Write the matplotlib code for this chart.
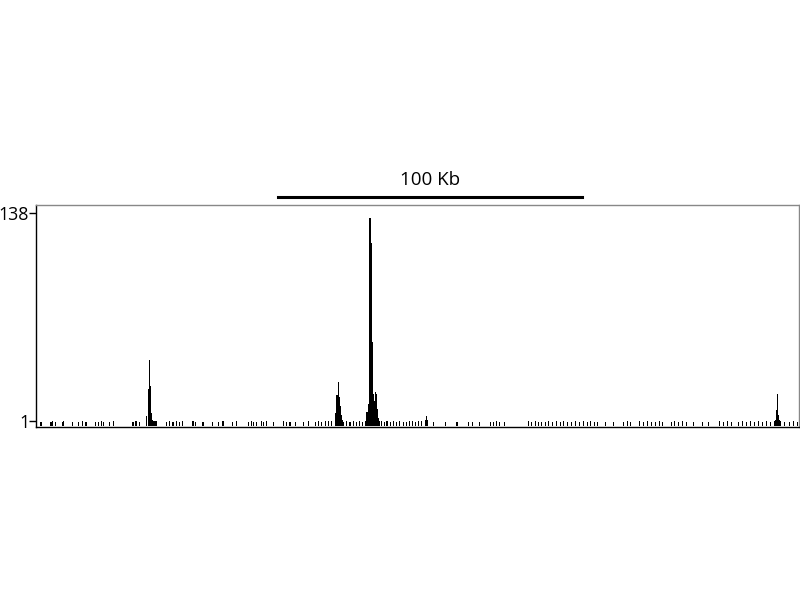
import matplotlib.pyplot as plt
import numpy as np

# signal track, positions in Kb
peak_kb = [36.6, 37.0, 37.3, 37.6, 38.0, 38.3, 38.6, 39.0, 39.3, 39.6, 39.9,
           98.7, 99.0, 99.3, 99.7, 100.0, 100.3, 100.7, 101.0,
           108.9, 109.2, 109.6, 109.9, 110.2, 110.6, 110.9, 111.2, 111.6, 111.9, 112.2, 112.5, 112.9, 113.2,
           128.4, 128.7, 129.0,
           243.9, 244.2, 244.6, 244.9, 245.2, 245.6]
peak_val = [4, 22, 41, 24, 6, 2, 1, 1, 1, 1, 0.5,
            6, 12, 18, 27, 17, 11, 5, 2,
            4, 7, 12, 40, 135, 118, 53, 19, 14, 20, 19, 9, 3, 1,
            2, 4, 1.5,
            2, 8, 19, 5, 1.5, 1]

noise_kb = [1.65, 4.95, 5.6, 6.3, 8.6, 9.2, 12.2, 13.9, 15.2, 16.5, 19.5, 20.5, 21.5, 22.4, 24.1, 25.7,
            32.0, 32.7, 33.3, 34.3,
            43.2, 44.2, 45.2, 46.2, 47.2, 48.2, 51.8, 52.5, 55.1, 58.1, 60.1, 61.7, 64.7, 66.3,
            70.0, 71.0, 71.9, 72.9, 74.3, 75.2, 76.2, 78.5, 81.5, 82.5,
            83.8, 85.5, 88.1, 89.8, 92.1, 93.1, 94.1, 95.4, 96.4, 97.4,
            101.6, 102.6, 103.6, 104.6, 105.6, 106.6, 107.6, 108.6,
            113.9, 114.9, 115.8, 116.8, 117.8, 118.8, 119.8, 121.1, 122.1, 123.1, 124.1, 125.1, 126.1, 127.1,
            131.0, 135.0, 138.9, 142.6, 143.9, 146.2, 149.8, 150.8, 151.8, 152.8, 154.5,
            162.4, 163.4, 164.7, 165.7, 166.7, 168.0, 169.0, 170.3, 171.6, 172.9, 173.9, 175.2,
            176.6, 177.9, 179.2, 180.5, 181.8, 182.8, 184.2, 185.1,
            187.8, 190.4, 193.7, 195.0, 196.0, 199.0, 200.3, 201.6, 203.0, 204.3, 205.6,
            206.6, 209.6, 210.6, 211.9, 213.2, 214.5, 216.8, 219.8, 221.8, 225.4, 226.7, 228.0, 229.4,
            231.7, 233.0, 234.3, 235.6, 237.0, 238.3, 239.6, 240.9, 242.2, 243.6, 246.9, 248.5, 249.8, 251.2]
noise_val = [0.5, 0.3, 1.0, 0.4, 0.2, 0.8, 0.5, 0.3, 0.9, 0.4, 0.6, 0.3, 0.8, 0.5, 0.2, 0.7,
             0.4, 1.2, 0.8, 0.3,
             0.6, 0.9, 0.4, 0.7, 0.3, 0.8, 1.0, 0.5, 0.3, 0.6, 0.2, 0.7, 0.4, 0.9,
             0.5, 0.8, 0.3, 0.6, 1.0, 0.4, 0.7, 0.3, 0.8, 0.5,
             0.3, 0.6, 0.4, 0.8, 0.5, 0.9, 0.3, 0.7, 1.2, 0.9,
             0.6, 1.0, 0.4, 0.8, 0.5, 0.9, 0.6, 1.1,
             0.8, 0.4, 1.0, 0.5, 0.7, 0.3, 0.9, 0.6, 0.4, 0.8, 1.0, 0.5, 1.2, 0.7,
             0.4, 0.6, 0.3, 0.5, 0.4, 0.2, 0.6, 0.4, 0.7, 0.3, 0.5,
             0.7, 0.4, 0.9, 0.5, 0.6, 0.3, 0.8, 0.5, 0.7, 0.4, 0.9, 0.6,
             0.3, 0.8, 0.5, 0.7, 0.4, 0.9, 0.5, 0.6,
             0.3, 0.4, 0.6, 0.8, 0.5, 0.7, 0.4, 0.9, 0.5, 0.6, 0.8,
             0.4, 0.6, 0.8, 0.5, 0.7, 0.3, 0.5, 0.4, 0.3, 0.7, 0.5, 0.8, 0.4,
             0.6, 0.9, 0.5, 0.7, 0.4, 0.8, 0.6, 0.9, 0.5, 1.0, 0.6, 0.4, 0.7, 0.5]

y_ticks = [1, 138]
scale_kb = [80, 180]
scale_label = "100 Kb"

plt.rcParams['font.family'] = ['Open Sans', 'DejaVu Sans']

fig = plt.figure(figsize=(8, 6), dpi=100)
ax = fig.add_axes([0.045, 0.2883, 0.954, 0.37])

base = -2.0
ax.bar(noise_kb, np.array(noise_val) - base, bottom=base, width=0.34,
       color='black', linewidth=0)
ax.bar(peak_kb, np.array(peak_val) - base, bottom=base, width=0.36,
       color='black', linewidth=0)

ax.set_xlim(0, 251.8)
ax.set_ylim(-2.95, 143.3)
ax.set_xticks([])
ax.set_yticks(y_ticks)
ax.set_yticklabels([str(t) for t in y_ticks])
ax.tick_params(axis='y', length=5, width=1, pad=0, labelsize=12.8, direction='out')

ax.spines['left'].set_color('black')
ax.spines['bottom'].set_color('black')
ax.spines['top'].set_color('#888888')
ax.spines['right'].set_color('#888888')
for s in ax.spines.values():
    s.set_linewidth(1)

# scale bar above the track
trans = ax.get_xaxis_transform()
ax.plot(scale_kb, [1.036, 1.036], color='black', lw=2.2, transform=trans, clip_on=False)
ax.text(np.mean(scale_kb), 1.113, scale_label, transform=trans, ha='center', va='center',
        fontsize=13.5)

fig.savefig('out.png', dpi=100)
